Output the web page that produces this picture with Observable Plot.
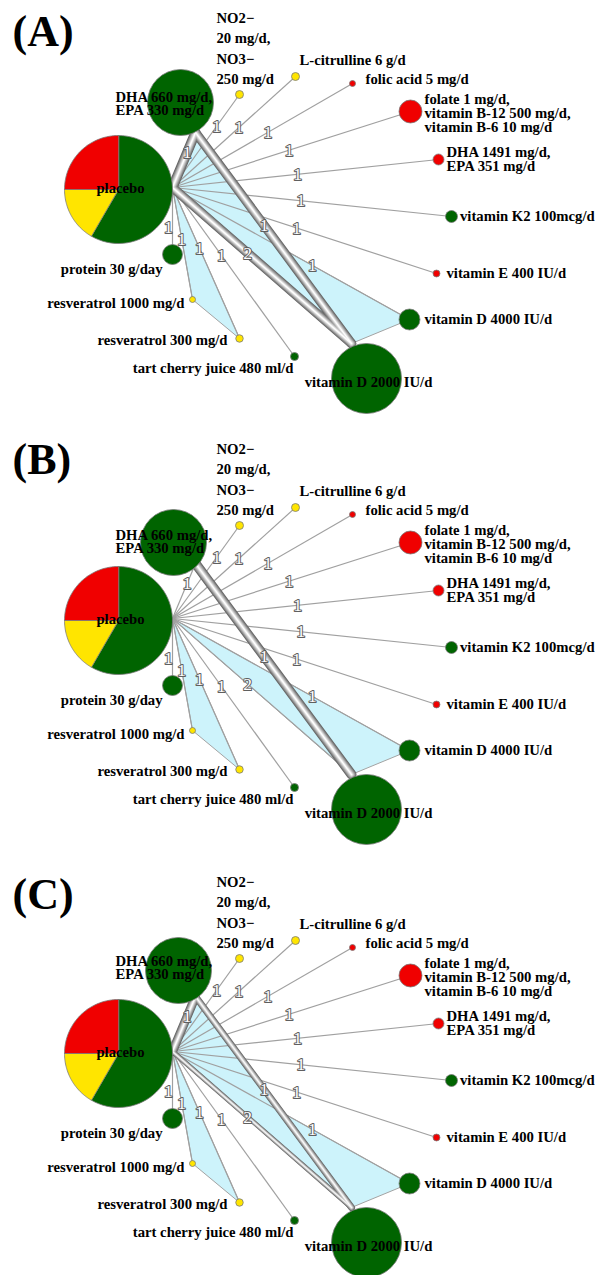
<!DOCTYPE html>
<html>
<head>
<meta charset="utf-8">
<script src="https://cdn.jsdelivr.net/npm/d3@7"></script>
<script src="https://cdn.jsdelivr.net/npm/@observablehq/plot@0.6"></script>
<style>
  html, body { margin: 0; padding: 0; background: #fff; }
  #chart svg { display: block; }
  #chart svg text { -webkit-font-smoothing: antialiased; }
</style>
</head>
<body>
<div id="chart"></div>
<script>
// ================= DATA =================
const panels = ["(A)", "(B)", "(C)"];

const treatments = ["placebo", "DHA660", "NO2NO3", "citrulline", "folic", "folate", "DHA1491",
  "K2", "vitE", "vitD4000", "vitD2000", "tart", "resv300", "resv1000", "protein"];

const treatmentLabels = [
  "placebo",
  "DHA 660 mg/d,\nEPA 330 mg/d",
  "NO2−\n20 mg/d,\nNO3−\n250 mg/d",
  "L-citrulline 6 g/d",
  "folic acid 5 mg/d",
  "folate 1 mg/d,\nvitamin B-12 500 mg/d,\nvitamin B-6 10 mg/d",
  "DHA 1491 mg/d,\nEPA 351 mg/d",
  "vitamin K2 100mcg/d",
  "vitamin E 400 IU/d",
  "vitamin D 4000 IU/d",
  "vitamin D 2000 IU/d",
  "tart cherry juice 480 ml/d",
  "resveratrol 300 mg/d",
  "resveratrol 1000 mg/d",
  "protein 30 g/day"
];

// approximate participants per node (node area)
const sampleSizes = [2916, 1089, 16, 16, 9, 132, 30, 36, 12, 110, 1225, 16, 14, 9, 100];

// risk of bias of each node
const riskOfBias = ["mixed", "low", "some", "some", "high", "high", "high",
  "low", "high", "low", "low", "low", "some", "some", "low"];
const biasLevels = ["low", "some", "high"];
const placeboBiasCounts = [7, 2, 3];

// direct comparisons and number of studies
const comparisonFrom = ["placebo", "placebo", "placebo", "placebo", "placebo", "placebo", "placebo",
  "placebo", "placebo", "placebo", "placebo", "placebo", "placebo", "placebo", "DHA660"];
const comparisonTo = ["DHA660", "NO2NO3", "citrulline", "folic", "folate", "DHA1491", "K2",
  "vitE", "vitD4000", "vitD2000", "tart", "resv300", "resv1000", "protein", "vitD2000"];
const studyCounts = [1, 1, 1, 1, 1, 1, 1, 1, 1, 2, 1, 1, 1, 1, 1];

// edge weight per panel (0 = plain thin line)
const edgeWeightA = [10, 0, 0, 0, 0, 0, 0, 0, 0, 9.5, 0, 0, 0, 0, 9.5];
const edgeWeightB = [0, 0, 0, 0, 0, 0, 0, 0, 0, 0, 0, 0, 0, 0, 10];
const edgeWeightC = [9, 0, 0, 0, 0, 0, 0, 0, 0, 5, 0, 0, 0, 0, 7];

// multi-arm trials (shaded)
const multiArmTrials = [["placebo", "resv1000", "resv300"], ["placebo", "vitD4000", "vitD2000"], ["placebo", "DHA660", "vitD2000"]];
const multiArmShownA = [true, true, true];
const multiArmShownB = [true, true, false];
const multiArmShownC = [true, true, true];

// ================= LAYOUT & STYLE =================
const W = 596, H = 1275;
const panelOffsets = [0, 431, 864];
const panelLabelBaselines = [45, 473, 908];
// id, circle cx, cy, edge anchor ax, ay, label dx, dy (from circle), text anchor
const layout = [
  ["placebo", 118, 189, 172, 187, 2, -1, "middle"],
  ["DHA660", 180, 102, 195, 132, -65, 1.5, "start"],
  ["NO2NO3", 239, 94, 239, 94, -23, -47.5, "start"],
  ["citrulline", 295, 76, 295, 76, 4, -16, "start"],
  ["folic", 352, 83, 352, 83, 13, -4, "start"],
  ["folate", 410, 111, 410, 111, 14, 2, "start"],
  ["DHA1491", 438, 159, 438, 159, 8, 0, "start"],
  ["K2", 451, 216, 451, 216, 8.5, 0, "start"],
  ["vitE", 436, 273, 436, 273, 10, 0, "start"],
  ["vitD4000", 409, 319, 409, 319, 15, 0, "start"],
  ["vitD2000", 366, 378, 351, 343, 2, 4, "middle"],
  ["tart", 294, 356, 294, 356, -1, 12, "end"],
  ["resv300", 239, 338, 239, 338, -12, 2, "end"],
  ["resv1000", 192, 299, 192, 299, -8, 4, "end"],
  ["protein", 172, 254, 172, 254, -10, 15, "end"]
];
const labelT = [0.64, 0.66, 0.54, 0.53, 0.49, 0.47, 0.46, 0.47, 0.59, 0.42, 0.40, 0.40, 0.46, 0.60, 0.44];
const labelDx = [0, 0, 0, 0, 0, 0, 0, 0, 0, 0, 0, 0, 0, -4, 0];
const circleShift = [{}, {DHA660: [-7, 9]}, {DHA660: [-2, 4]}];
const labelShift = [{}, {DHA660: [0, 7]}, {}];
const biasColors = ["#006400", "#ffe500", "#f00000"];
const tubeLayers = [[1, "#666666"], [0.82, "#858585"], [0.64, "#a6a6a6"], [0.46, "#c8c8c8"], [0.28, "#e6e6e6"], [0.12, "#ffffff"]];
const font = "'Liberation Serif', 'Times New Roman', serif";

const L = Object.fromEntries(layout.map(([id, cx, cy, ax, ay, lx, ly, anchor]) => [id, {cx, cy, ax, ay, lx, ly, anchor}]));
const rScale = d3.scaleSqrt().domain([0, 2916]).range([0, 54]);
const weights = [edgeWeightA, edgeWeightB, edgeWeightC];
const shown = [multiArmShownA, multiArmShownB, multiArmShownC];

const nodes = [], nodeLabels = [], thin = [], thick = [], edgeLabels = [], polys = [], pie = [], panelRows = [];

panels.forEach((p, pi) => {
  const off = panelOffsets[pi];
  const anchorOf = id => [L[id].ax, L[id].ay + off];
  panelRows.push({text: p, x: 12, y: panelLabelBaselines[pi]});
  treatments.forEach((id, i) => {
    const l = L[id];
    const cs = circleShift[pi][id] || [0, 0];
    const ls = labelShift[pi][id] || [0, 0];
    const cx = l.cx + cs[0], cy = l.cy + cs[1] + off;
    if (id !== "placebo") nodes.push({id, x: cx, y: cy, n: sampleSizes[i], bias: riskOfBias[i]});
    else {
      const r = rScale(sampleSizes[i]);
      d3.pie().sort(null)(placeboBiasCounts).forEach((a, k) => {
        const key = pi + "-" + k;
        pie.push({key, bias: biasLevels[k], x: cx, y: cy});
        const steps = 48;
        for (let s = 0; s <= steps; s++) {
          const ang = a.startAngle + (a.endAngle - a.startAngle) * s / steps;
          pie.push({key, bias: biasLevels[k], x: cx + r * Math.sin(ang), y: cy - r * Math.cos(ang)});
        }
      });
    }
    nodeLabels.push({id, x: l.cx + l.lx + ls[0], y: l.cy + l.ly + ls[1] + off,
      text: treatmentLabels[i], anchor: l.anchor});
  });
  comparisonFrom.forEach((from, k) => {
    const [x1, y1] = anchorOf(from), [x2, y2] = anchorOf(comparisonTo[k]);
    const w = weights[pi][k];
    const row = {x1, y1, x2, y2, w};
    (w > 0 ? thick : thin).push(row);
    const t = labelT[k];
    edgeLabels.push({x: x1 + (x2 - x1) * t + labelDx[k], y: y1 + (y2 - y1) * t, text: String(studyCounts[k])});
  });
  multiArmTrials.forEach((trial, m) => {
    if (!shown[pi][m]) return;
    trial.forEach(id => { const [x, y] = anchorOf(id); polys.push({key: pi + "-" + m, x, y}); });
  });
});

const textBase = {fontFamily: font, fontWeight: "bold", fontSize: 14.7, fill: "black"};

const marks = [
  Plot.line(polys, {x: "x", y: "y", z: "key", fill: "#cdf3fb", stroke: "#a3a3a3", strokeWidth: 1, curve: "linear-closed"}),
  Plot.link(thin, {x1: "x1", y1: "y1", x2: "x2", y2: "y2", stroke: "#a0a0a0", strokeWidth: 1.2}),
  ...tubeLayers.map(([f, c]) => Plot.link(thick, {x1: "x1", y1: "y1", x2: "x2", y2: "y2",
    stroke: c, strokeWidth: d => d.w * f, strokeLinecap: "round"})),
  Plot.text(edgeLabels, {x: "x", y: "y", text: "text", fontFamily: font, fontSize: 17.5,
    fill: "white", stroke: "#5e5e5e", strokeWidth: 2, rotate: 0.01, opacity: 0.99}),
  Plot.dot(nodes, {x: "x", y: "y", r: "n", fill: "bias", stroke: "#7a7a7a", strokeWidth: 0.8}),
  ...biasLevels.map((b, k) => Plot.line(pie.filter(d => d.bias === b), {x: "x", y: "y", z: "key",
    fill: biasColors[k], stroke: "#7a7a7a", strokeWidth: 0.8, curve: "linear-closed"})),
  Plot.text(nodeLabels.filter(d => d.id !== "NO2NO3" && d.anchor === "start"), {...textBase, x: "x", y: "y", text: "text", textAnchor: "start", lineHeight: 0.93}),
  Plot.text(nodeLabels.filter(d => d.anchor === "end"), {...textBase, x: "x", y: "y", text: "text", textAnchor: "end"}),
  Plot.text(nodeLabels.filter(d => d.anchor === "middle"), {...textBase, x: "x", y: "y", text: "text", textAnchor: "middle"}),
  Plot.text(nodeLabels.filter(d => d.id === "NO2NO3"), {...textBase, x: "x", y: "y", text: "text", textAnchor: "start", lineHeight: 1.38}),
  Plot.text(panelRows, {x: "x", y: "y", text: "text", fontFamily: font, fontWeight: "bold", fontSize: 44,
    fill: "black", textAnchor: "start", lineAnchor: "bottom"})
];

const chart = Plot.plot({
  width: W, height: H, margin: 0,
  x: {domain: [0, W], range: [0, W], axis: null},
  y: {domain: [0, H], range: [0, H], axis: null},
  r: {type: "sqrt", domain: [0, 2916], range: [0, 54]},
  color: {domain: biasLevels, range: biasColors},
  style: {background: "white", fontFamily: font},
  marks
});
document.getElementById("chart").appendChild(chart);
</script>
</body>
</html>
